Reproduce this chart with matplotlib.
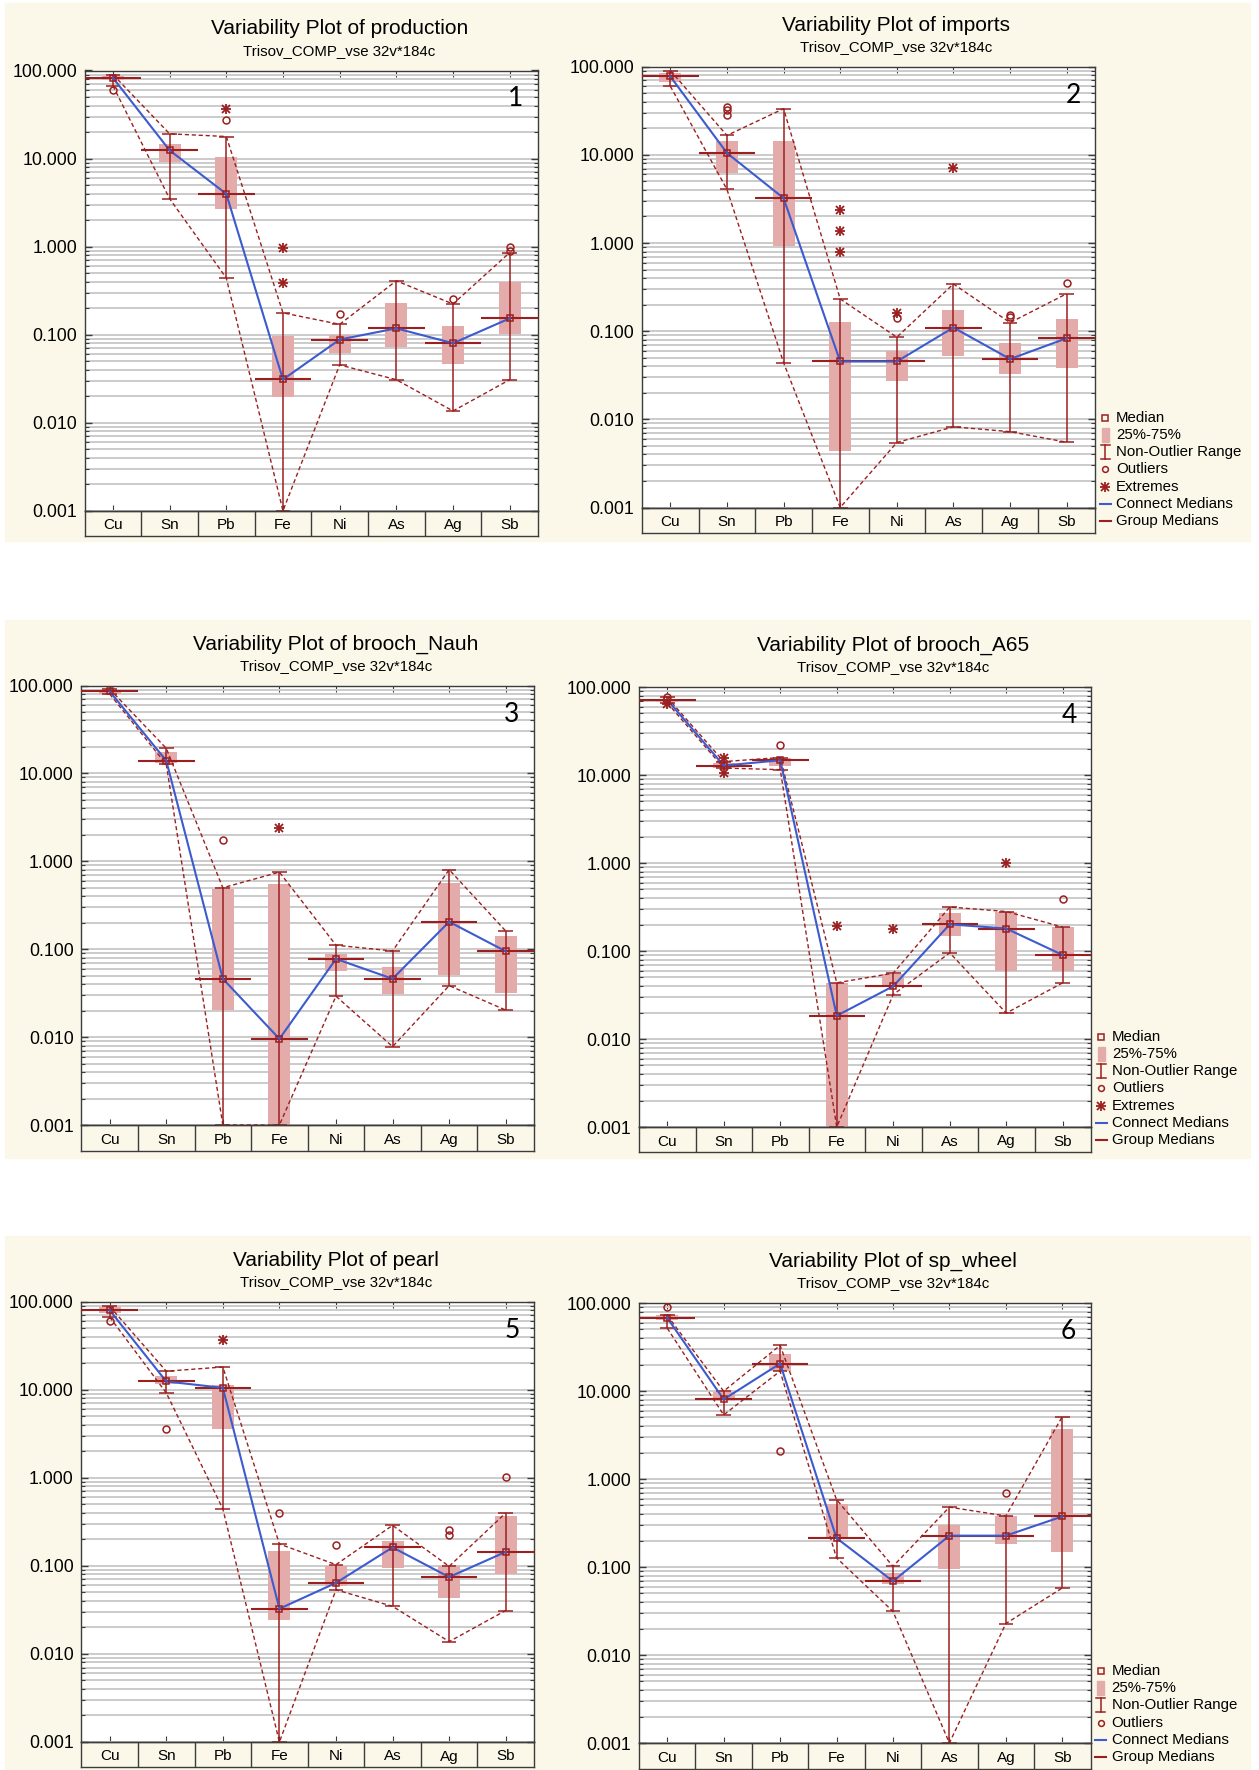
import numpy as np
import matplotlib
matplotlib.use('Agg')
import matplotlib.pyplot as plt
from matplotlib.lines import Line2D
from matplotlib.patches import Rectangle
from matplotlib.ticker import LogLocator, FuncFormatter, NullFormatter

plt.rcParams['font.family'] = ['Liberation Sans', 'DejaVu Sans']

W, H = 1259, 1770
red = '#9c1f1f'
pink = '#e4abab'
blue = '#3b5bcf'
beige = '#fbf7e9'
frame = '#3c3c3c'

elements = ['Cu', 'Sn', 'Pb', 'Fe', 'Ni', 'As', 'Ag', 'Sb']
subtitle = 'Trisov_COMP_vse 32v*184c'

# production
prod_med = [82.6, 12.4, 3.97, 0.031, 0.088, 0.118, 0.080, 0.153]
prod_q1 = [77.0, 9.1, 2.7, 0.0195, 0.0625, 0.073, 0.047, 0.103]
prod_q3 = [87.0, 14.8, 10.4, 0.096, 0.100, 0.227, 0.124, 0.40]
prod_lo = [67.0, 3.5, 0.44, 0.001, 0.0454, 0.0308, 0.0136, 0.0308]
prod_hi = [90.0, 19.1, 17.8, 0.177, 0.131, 0.409, 0.223, 0.855]
prod_out = [[60.0], [], [27.3], [], [0.17], [], [0.251], [1.0, 0.89]]
prod_ext = [[], [], [36.8], [0.955, 0.385], [], [], [], []]

# imports
imp_med = [77.6, 10.5, 3.23, 0.0453, 0.0453, 0.110, 0.0483, 0.0832]
imp_q1 = [67.7, 6.27, 0.93, 0.0044, 0.0275, 0.0528, 0.033, 0.0378]
imp_q3 = [84.9, 14.2, 14.5, 0.126, 0.0594, 0.172, 0.0733, 0.137]
imp_lo = [60.1, 4.06, 0.044, 0.001, 0.00546, 0.00822, 0.00725, 0.0055]
imp_hi = [90.5, 16.6, 33.4, 0.232, 0.0855, 0.343, 0.125, 0.266]
imp_out = [[], [34.9, 31.9, 28.6], [], [], [0.141], [], [0.152, 0.146], [0.349]]
imp_ext = [[], [], [], [2.39, 1.36, 0.784], [0.161], [7.12], [], []]

# brooch_Nauh
nauh_med = [85.7, 13.95, 0.0461, 0.00955, 0.0775, 0.0461, 0.205, 0.0946]
nauh_q1 = [80.0, 13.1, 0.0203, 0.001, 0.0564, 0.0313, 0.0506, 0.032]
nauh_q3 = [89.6, 17.5, 0.488, 0.548, 0.089, 0.0634, 0.564, 0.143]
nauh_lo = [80.0, 12.7, 0.001, 0.001, 0.0292, 0.0078, 0.0385, 0.0203]
nauh_hi = [91.0, 19.3, 0.50, 0.753, 0.111, 0.0955, 0.804, 0.161]
nauh_out = [[], [], [1.76], [], [], [], [], []]
nauh_ext = [[], [], [], [2.42], [], [], [], []]

# brooch_A65
a65_med = [71.5, 12.8, 14.7, 0.0184, 0.0398, 0.201, 0.180, 0.090]
a65_q1 = [67.6, 12.0, 12.6, 0.001, 0.039, 0.150, 0.0598, 0.0598]
a65_q3 = [74.0, 13.8, 15.8, 0.0435, 0.0552, 0.271, 0.281, 0.187]
a65_lo = [66.0, 12.0, 11.5, 0.001, 0.032, 0.0953, 0.0197, 0.0435]
a65_hi = [76.0, 14.2, 15.8, 0.0435, 0.056, 0.316, 0.281, 0.187]
a65_out = [[77.5], [], [21.7], [], [], [], [], [0.386]]
a65_ext = [[64.6], [15.5, 10.5], [], [0.192], [0.178], [], [1.01], []]

# pearl
pearl_med = [79.8, 12.4, 10.5, 0.0326, 0.064, 0.162, 0.0746, 0.144]
pearl_q1 = [75.0, 11.6, 3.58, 0.0242, 0.0585, 0.0933, 0.0427, 0.0802]
pearl_q3 = [85.8, 14.2, 11.3, 0.148, 0.0987, 0.192, 0.0987, 0.37]
pearl_lo = [66.7, 9.2, 0.443, 0.001, 0.0535, 0.0347, 0.0138, 0.0311]
pearl_hi = [88.2, 16.2, 18.1, 0.177, 0.1032, 0.288, 0.0987, 0.398]
pearl_out = [[59.9], [3.58], [], [0.394], [0.172], [], [0.253, 0.222], [1.01]]
pearl_ext = [[], [], [37.1], [], [], [], [], []]

# sp_wheel
wheel_med = [67.9, 8.03, 20.5, 0.213, 0.069, 0.227, 0.227, 0.375]
wheel_q1 = [63.7, 7.67, 16.8, 0.21, 0.0647, 0.0946, 0.181, 0.148]
wheel_q3 = [72.3, 9.79, 26.4, 0.514, 0.0865, 0.30, 0.375, 3.7]
wheel_lo = [51.8, 5.35, 16.8, 0.127, 0.0313, 0.001, 0.0228, 0.0577]
wheel_hi = [72.3, 9.95, 33.0, 0.583, 0.1017, 0.479, 0.38, 5.12]
wheel_out = [[90.6], [], [2.06], [], [], [], [0.686], []]
wheel_ext = [[], [], [], [], [], [], [], []]


fig = plt.figure(figsize=(W / 100, H / 100), dpi=100)
fig.patch.set_facecolor('white')


def fx(x):
    return x / W


def fy(y):
    return 1 - y / H


# beige strips behind each row of panels
for top, bot in [(3, 541), (620, 1158), (1236, 1770)]:
    fig.add_artist(Rectangle((fx(5), fy(bot)), fx(1250) - fx(5), fy(top) - fy(bot),
                             transform=fig.transFigure, color=beige, zorder=-10))

# the "extreme" glyph is a plus laid over a cross
star_parts = [dict(marker='+', ms=7, mew=1.3), dict(marker='x', ms=5.5, mew=1.3)]


def draw_legend(R, CB, extremes=True):
    labels = ['Median', '25%-75%', 'Non-Outlier Range', 'Outliers']
    if extremes:
        labels.append('Extremes')
    labels += ['Connect Medians', 'Group Medians']
    n = len(labels)
    mx = R + 10
    for k, lab in enumerate(labels):
        y = CB - 12 - (n - 1 - k) * 17.2
        fig.text(fx(R + 21), fy(y), lab, fontsize=10.8, va='center', ha='left')
        if lab == 'Median':
            fig.add_artist(Line2D([fx(mx)], [fy(y)], marker='s', ms=4.5, mfc='none',
                                  mec=red, mew=1.1, transform=fig.transFigure))
        elif lab == '25%-75%':
            fig.add_artist(Rectangle((fx(mx - 3.5), fy(y + 7)), 7 / W, 14 / H,
                                     transform=fig.transFigure, color=pink))
        elif lab == 'Non-Outlier Range':
            fig.add_artist(Line2D([fx(mx), fx(mx)], [fy(y - 7), fy(y + 7)], color=red,
                                  lw=1.1, transform=fig.transFigure))
            for yy in (y - 7, y + 7):
                fig.add_artist(Line2D([fx(mx - 4.5), fx(mx + 4.5)], [fy(yy), fy(yy)],
                                      color=red, lw=1.1, transform=fig.transFigure))
        elif lab == 'Outliers':
            fig.add_artist(Line2D([fx(mx)], [fy(y)], marker='o', ms=4.2, mfc='none',
                                  mec=red, mew=1.1, transform=fig.transFigure))
        elif lab == 'Extremes':
            for sp in star_parts:
                fig.add_artist(Line2D([fx(mx)], [fy(y)], ls='none', mec=red,
                                      transform=fig.transFigure, **sp))
        else:
            c = blue if lab == 'Connect Medians' else red
            fig.add_artist(Line2D([fx(R + 4.5), fx(R + 15.5)], [fy(y), fy(y)], color=c,
                                  lw=1.5, transform=fig.transFigure))


def draw_panel(name, num, med, q1, q3, lo, hi, outl, extr, box, legend=None):
    L, T, R, B, CB = box
    ax = fig.add_axes([fx(L), fy(B), fx(R) - fx(L), fy(T) - fy(B)])
    x = np.arange(len(elements))
    med, q1, q3 = np.array(med), np.array(q1), np.array(q3)
    lo, hi = np.array(lo), np.array(hi)

    ax.set_yscale('log')
    ax.set_ylim(0.001, 100)
    ax.set_xlim(-0.5, len(elements) - 0.5)
    ax.set_facecolor('white')
    ax.yaxis.set_major_locator(LogLocator(base=10, numticks=10))
    ax.yaxis.set_minor_locator(LogLocator(base=10, subs=np.arange(2, 10), numticks=20))
    ax.yaxis.set_major_formatter(FuncFormatter(lambda v, p: f'{v:.3f}'))
    ax.yaxis.set_minor_formatter(NullFormatter())
    ax.yaxis.grid(True, which='both', color='#cbcbcb', lw=1.4)
    ax.set_axisbelow(True)
    ax.tick_params(axis='y', which='both', direction='in', left=True, right=True,
                   labelsize=12.8, pad=5.5, color=frame)
    ax.tick_params(axis='y', which='major', length=5, width=1)
    ax.tick_params(axis='y', which='minor', length=3, width=0.8)
    ax.set_xticks(x)
    ax.tick_params(axis='x', direction='in', top=True, bottom=True, labelbottom=False,
                   length=4, color=frame)
    for s in ax.spines.values():
        s.set_color(frame)
        s.set_linewidth(1.0)

    # interquartile boxes
    ax.bar(x, q3 - q1, bottom=q1, width=0.39, color=pink, zorder=1)
    # non-outlier envelopes
    ax.plot(x, hi, color=red, lw=1.0, ls=(0, (3, 2)), zorder=2)
    ax.plot(x, lo, color=red, lw=1.0, ls=(0, (3, 2)), zorder=2)
    # whiskers with caps
    ax.vlines(x, lo, hi, color=red, lw=1.1, zorder=2.5)
    ax.hlines(lo, x - 0.13, x + 0.13, color=red, lw=1.1, zorder=2.5)
    ax.hlines(hi, x - 0.13, x + 0.13, color=red, lw=1.1, zorder=2.5)
    # group medians and connecting line
    ax.hlines(med, x - 0.5, x + 0.5, color=red, lw=1.5, zorder=3)
    ax.plot(x, med, color=blue, lw=1.5, zorder=3.5)
    ax.plot(x, med, ls='none', marker='s', ms=4.5, mfc='none', mec=red, mew=1.1, zorder=4)
    for i in x:
        if outl[i]:
            ax.plot([i] * len(outl[i]), outl[i], ls='none', marker='o', ms=5,
                    mfc='none', mec=red, mew=1.1, zorder=4, clip_on=False)
        if extr[i]:
            for sp in star_parts:
                ax.plot([i] * len(extr[i]), extr[i], ls='none', mec=red, zorder=4,
                        clip_on=False, **sp)

    ax.text(1 - 22 / (R - L), 1 - 36 / (B - T), str(num),
            transform=ax.transAxes, ha='center', va='baseline', fontsize=19,
            family=['Lato', 'DejaVu Sans'])

    # category strip below the plot
    cax = fig.add_axes([fx(L), fy(CB), fx(R) - fx(L), fy(B) - fy(CB)])
    cax.set_xlim(-0.5, len(elements) - 0.5)
    cax.set_ylim(0, 1)
    cax.patch.set_alpha(0)
    cax.set_xticks([])
    cax.set_yticks([])
    for s in cax.spines.values():
        s.set_color(frame)
        s.set_linewidth(1.0)
    for b in np.arange(0.5, len(elements) - 1, 1.0):
        cax.axvline(b, color=frame, lw=1.0)
    for i, e in enumerate(elements):
        cax.text(i, 0.42, e, ha='center', va='center', fontsize=11)

    cx = (L + R) / 2 + 28
    fig.text(fx(cx), fy(T - 36), 'Variability Plot of ' + name, ha='center',
             va='baseline', fontsize=15)
    fig.text(fx(cx), fy(T - 15.5), subtitle, ha='center', va='baseline', fontsize=10.8)

    if legend is not None:
        draw_legend(R, CB, extremes=legend)


draw_panel('production', 1, prod_med, prod_q1, prod_q3, prod_lo, prod_hi, prod_out, prod_ext,
           (84.6, 70.5, 538, 510.8, 536))
draw_panel('imports', 2, imp_med, imp_q1, imp_q3, imp_lo, imp_hi, imp_out, imp_ext,
           (642, 66.7, 1095, 507.5, 533), legend=True)
draw_panel('brooch_Nauh', 3, nauh_med, nauh_q1, nauh_q3, nauh_lo, nauh_hi, nauh_out, nauh_ext,
           (81.4, 685.5, 534, 1125, 1151))
draw_panel('brooch_A65', 4, a65_med, a65_q1, a65_q3, a65_lo, a65_hi, a65_out, a65_ext,
           (639, 687, 1091, 1127, 1152), legend=True)
draw_panel('pearl', 5, pearl_med, pearl_q1, pearl_q3, pearl_lo, pearl_hi, pearl_out, pearl_ext,
           (81.4, 1301.6, 534, 1742, 1767))
draw_panel('sp_wheel', 6, wheel_med, wheel_q1, wheel_q3, wheel_lo, wheel_hi, wheel_out, wheel_ext,
           (639, 1303, 1090.5, 1743, 1769), legend=False)

fig.savefig('out.png', dpi=100)
